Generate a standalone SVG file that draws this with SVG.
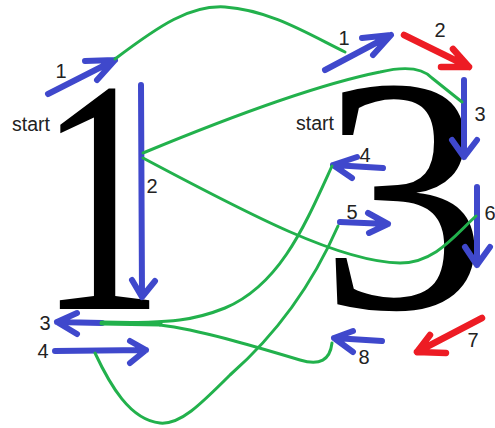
<svg xmlns="http://www.w3.org/2000/svg" width="495" height="428" viewBox="0 0 495 428">
<style>
.glyph{font-family:"Liberation Serif","Times New Roman",serif;fill:#000}
.lbl{font-family:"Liberation Sans",Arial,sans-serif;font-size:20px;fill:#222;text-anchor:middle}
.st{font-family:"Liberation Sans",Arial,sans-serif;font-size:19.5px;fill:#222}
.b{stroke:#3f48cc;stroke-width:6;fill:none;stroke-linecap:round;stroke-linejoin:round}
.r{stroke:#ed1c24;stroke-width:6.5;fill:none;stroke-linecap:round;stroke-linejoin:round}
.g{stroke:#22b14c;stroke-width:3;fill:none;stroke-linecap:round;stroke-linejoin:round}
</style>
<rect width="495" height="428" fill="#fff"/>
<g id="digit-one"><text class="glyph" transform="translate(101,309) scale(0.76,1)" font-size="334" text-anchor="middle">1</text><text class="st" x="12" y="131">start</text></g>
<g id="digit-three"><text class="glyph" x="319.5" y="308" font-size="336">3</text><text class="st" x="296" y="130">start</text></g>
<g id="one-arrow-1"><path class="b" d="M48,94 L115,60 M85,61 L115,60 L97,80"/><text class="lbl" x="61" y="78">1</text></g>
<g id="one-arrow-2"><path class="b" d="M141,85 L142,297 M132,280 L142,297 L155,281"/><text class="lbl" x="152" y="193">2</text></g>
<g id="one-arrow-3"><path class="b" d="M102,323 L57,322 M77,313 L57,322 L77,334"/><text class="lbl" x="45" y="330">3</text></g>
<g id="one-arrow-4"><path class="b" d="M55,351 L146,350 M130,341 L146,350 L130,363"/><text class="lbl" x="43" y="358">4</text></g>
<g id="three-arrow-1"><path class="b" d="M325,70 L391,35 M362,38 L391,35 L373,55"/><text class="lbl" x="344" y="45">1</text></g>
<g id="three-arrow-2"><path class="r" d="M404,35 L469,67 M453,49 L469,67 L441,67"/><text class="lbl" x="440" y="37">2</text></g>
<g id="three-arrow-3"><path class="b" d="M464,80 L464,157 M452,140 L464,157 L477,140"/><text class="lbl" x="480" y="121">3</text></g>
<g id="three-arrow-4"><path class="b" d="M383,168 L333,165 M357,157 L333,165 L352,178"/><text class="lbl" x="365" y="162">4</text></g>
<g id="three-arrow-5"><path class="b" d="M340,222 L388,224 M368,213 L388,224 L369,233"/><text class="lbl" x="352" y="219">5</text></g>
<g id="three-arrow-6"><path class="b" d="M477,187 L477,265 M465,247 L477,265 L490,247"/><text class="lbl" x="490" y="220">6</text></g>
<g id="three-arrow-7"><path class="r" d="M482,318 L417,352 M430,335 L417,352 L446,353"/><text class="lbl" x="473" y="347">7</text></g>
<g id="three-arrow-8"><path class="b" d="M382,341 L334,338 M353,331 L334,338 L353,352"/><text class="lbl" x="364" y="364">8</text></g>
<g id="connectors">
<path class="g" d="M115,59 C160,25 190,5 225,7 C270,10 310,35 345,52"/>
<path class="g" d="M143,153 Q300,88 380,72 Q418,63 432,78 L462,102"/>
<path class="g" d="M143,158 C250,215 340,262 400,263 C435,263 455,235 476,216"/>
<path class="g" d="M332,166 C305,225 280,285 225,308 C195,320 175,323 102,323"/>
<path class="g" style="stroke-width:5" d="M102,323 L160,324"/>
<path class="g" d="M338,226 C310,290 270,340 230,375 C200,405 180,425 160,423 C130,420 110,385 95,353"/>
<path class="g" d="M160,325 C200,330 250,345 300,360 C320,366 330,360 332,343"/>
</g>
</svg>
